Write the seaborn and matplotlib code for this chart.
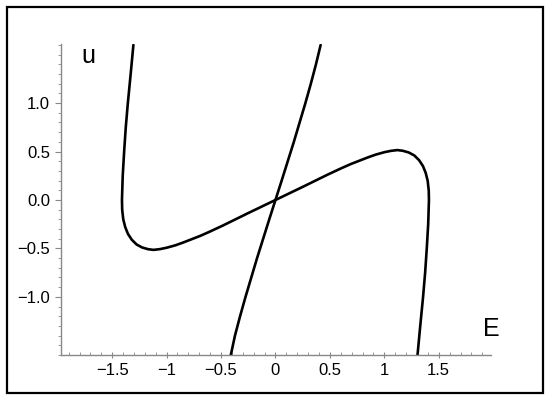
import numpy as np
import matplotlib
matplotlib.use('Agg')
import matplotlib.pyplot as plt
from matplotlib.patches import Rectangle
from matplotlib.ticker import MultipleLocator, FixedLocator
import pandas as pd
import seaborn as sns

# S-shaped curve (E, u) from top-left to bottom-right
E_s = [-1.305, -1.33, -1.356, -1.375, -1.39, -1.403, -1.41, -1.408, -1.398,
       -1.38, -1.355, -1.32, -1.275, -1.225, -1.17, -1.12, -1.06, -1.00,
       -0.92, -0.85, -0.77, -0.69, -0.60, -0.48, -0.25, 0.0, 0.25, 0.48,
       0.60, 0.69, 0.77, 0.85, 0.92, 1.00, 1.06, 1.12, 1.17, 1.225, 1.275,
       1.32, 1.355, 1.38, 1.398, 1.408, 1.41, 1.403, 1.39, 1.375, 1.356,
       1.33, 1.305]
u_s = [1.60, 1.30, 1.00, 0.75, 0.50, 0.25, 0.0, -0.10, -0.20, -0.28, -0.35,
       -0.41, -0.46, -0.49, -0.508, -0.515, -0.507, -0.493, -0.468, -0.44,
       -0.405, -0.37, -0.325, -0.262, -0.135, 0.0, 0.135, 0.262, 0.325,
       0.37, 0.405, 0.44, 0.468, 0.493, 0.507, 0.515, 0.508, 0.49, 0.46,
       0.41, 0.35, 0.28, 0.20, 0.10, 0.0, -0.25, -0.50, -0.75, -1.00, -1.30,
       -1.60]

# steep curve through the origin
E_l = [-0.41, -0.372, -0.325, -0.275, -0.222, -0.169, -0.113, -0.057, 0.0,
       0.057, 0.113, 0.169, 0.222, 0.275, 0.325, 0.372, 0.415]
u_l = [-1.60, -1.40, -1.20, -1.00, -0.80, -0.60, -0.40, -0.20, 0.0, 0.20,
       0.40, 0.60, 0.80, 1.00, 1.20, 1.40, 1.60]

x_ticks = [-1.5, -1, -0.5, 0, 0.5, 1, 1.5]
x_labels = ['\u22121.5', '\u22121', '\u22120.5', '0', '0.5', '1', '1.5']
y_ticks = [-1.0, -0.5, 0.0, 0.5, 1.0]
y_labels = ['\u22121.0', '\u22120.5', '0.0', '0.5', '1.0']

sns.set_style('white')
plt.rcParams['font.family'] = ['Liberation Sans', 'DejaVu Sans']

df_s = pd.DataFrame({'E': E_s, 'u': u_s})
df_l = pd.DataFrame({'E': E_l, 'u': u_l})

fig = plt.figure(figsize=(5.5, 4.01), dpi=100)
ax = fig.add_axes([61 / 550, 1 - 355 / 401, 430 / 550, 311 / 401])

sns.lineplot(data=df_s, x='E', y='u', sort=False, estimator=None,
             color='black', linewidth=1.9, ax=ax)
sns.lineplot(data=df_l, x='E', y='u', sort=False, estimator=None,
             color='black', linewidth=1.9, ax=ax)

ax.set_xlim(-1.97, 1.98)
ax.set_ylim(-1.6, 1.61)
ax.set_xlabel('')
ax.set_ylabel('')

for s in ['top', 'right']:
    ax.spines[s].set_visible(False)
for s in ['left', 'bottom']:
    ax.spines[s].set_color('#888888')
    ax.spines[s].set_linewidth(1.0)

ax.xaxis.set_major_locator(FixedLocator(x_ticks))
ax.set_xticklabels(x_labels)
ax.yaxis.set_major_locator(FixedLocator(y_ticks))
ax.set_yticklabels(y_labels)
ax.xaxis.set_minor_locator(MultipleLocator(0.1))
ax.yaxis.set_minor_locator(MultipleLocator(0.1))
ax.tick_params(axis='x', which='major', direction='inout', length=5,
               color='#888888', labelsize=12, labelcolor='black', pad=3,
               bottom=True)
ax.tick_params(axis='x', which='minor', direction='in', length=2,
               color='#888888', bottom=True)
ax.tick_params(axis='y', which='major', direction='out', length=4,
               color='#888888', labelsize=12, labelcolor='black', pad=4,
               left=True)
ax.tick_params(axis='y', which='minor', direction='out', length=2,
               color='#888888', left=True)

fig.text(88 / 550, 1 - 56 / 401, 'u', fontsize=18, color='black',
         ha='center', va='center')
fig.text(491 / 550, 1 - 329 / 401, 'E', fontsize=18, color='black',
         ha='center', va='center')

fig.patches.append(Rectangle((7 / 550, 1 - 393 / 401), 536 / 550, 386 / 401,
                             transform=fig.transFigure, fill=False,
                             edgecolor='black', linewidth=1.6))

fig.savefig('out.png', dpi=100)
